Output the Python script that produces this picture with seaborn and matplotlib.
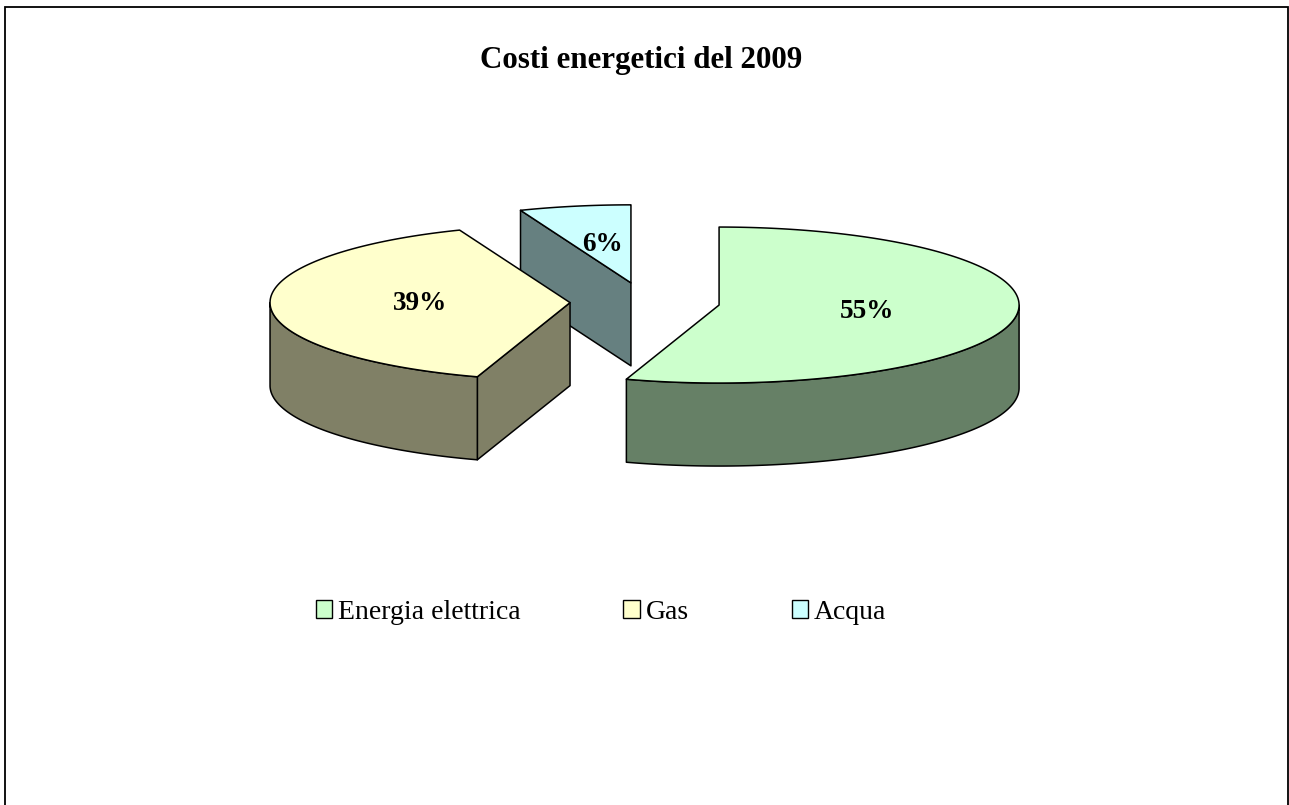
import numpy as np
import matplotlib.pyplot as plt
import seaborn as sns
from matplotlib.patches import Polygon, Patch, Rectangle

title = 'Costi energetici del 2009'
labels = ['Energia elettrica', 'Gas', 'Acqua']
shares = [55, 39, 6]
pct_labels = ['55%', '39%', '6%']
top_colors = ['#CCFFCC', '#FFFFCC', '#CCFFFF']
side_colors = ['#668066', '#808066', '#668080']

sns.set_style('white')
plt.rcParams['font.family'] = ['Liberation Serif', 'DejaVu Serif']
plt.rcParams['text.color'] = 'black'

W, H = 1289, 805
fig = plt.figure(figsize=(W / 100, H / 100), dpi=100)
ax = fig.add_axes([0, 0, 1, 1])

# pie layout in pixels: centre, radii of the tilted disc, thickness
cx, cy, rx, ry, depth = 645, 302, 300, 78, 83
explode = 0.25
ax.set_xlim(-cx / rx, (W - cx) / rx)
ax.set_ylim(-(H - cy) / ry, cy / ry)
ax.axis('off')
d = depth / ry

fracs = np.array(shares) / sum(shares)
starts = 90 - 360 * np.r_[0, np.cumsum(fracs)[:-1]]
ends = 90 - 360 * np.cumsum(fracs)

slices = []
for i in range(len(shares)):
    th1, th2 = ends[i], starts[i]
    mid = np.radians((th1 + th2) / 2)
    ox, oy = explode * np.cos(mid), explode * np.sin(mid)
    slices.append((oy, i, th1, th2, mid, ox))

# paint back slices first
for oy, i, th1, th2, mid, ox in sorted(slices, key=lambda s: -s[0]):
    kw = dict(edgecolor='black', linewidth=1.1, joinstyle='round')
    # radial faces facing the viewer
    for th, nrm in ((th1, th1 - 90), (th2, th2 + 90)):
        if np.sin(np.radians(nrm)) < -1e-6:
            t = np.radians(th)
            pts = [(ox, oy), (ox + np.cos(t), oy + np.sin(t)),
                   (ox + np.cos(t), oy + np.sin(t) - d), (ox, oy - d)]
            ax.add_patch(Polygon(pts, closed=True, facecolor=side_colors[i], **kw))
    # front curved wall
    for k in (-1, 0, 1):
        a, b = max(th1, -180 + 360 * k), min(th2, 360 * k)
        if a < b:
            t = np.radians(np.linspace(a, b, 120))
            top = np.c_[ox + np.cos(t), oy + np.sin(t)]
            bot = top[::-1] - [0, d]
            ax.add_patch(Polygon(np.r_[top, bot], closed=True,
                                 facecolor=side_colors[i], **kw))
    # top face
    t = np.radians(np.linspace(th1, th2, 200))
    pts = np.r_[[[ox, oy]], np.c_[ox + np.cos(t), oy + np.sin(t)]]
    ax.add_patch(Polygon(pts, closed=True, facecolor=top_colors[i], **kw))
    ax.text(ox + 0.5 * np.cos(mid), oy + 0.5 * np.sin(mid), pct_labels[i],
            ha='center', va='center', fontsize=19.5, fontweight='bold',
            color='black')

fig.text(641 / W, 1 - 68 / H, title, ha='center', va='baseline',
         fontsize=22.3, fontweight='bold', color='black')

handles = [Patch(facecolor=c, edgecolor='black', linewidth=1.0) for c in top_colors]
leg = fig.legend(handles, labels, loc='center', bbox_to_anchor=(601 / W, 1 - 612 / H),
                 ncol=3, frameon=False, fontsize=20, handlelength=0.6, handleheight=0.6,
                 handletextpad=0.2, columnspacing=3.7)
for txt in leg.get_texts():
    txt.set_color('black')

fig.patches.append(Rectangle((5 / W, -0.02), (1288 - 5) / W, 1.02 - 7 / H,
                             transform=fig.transFigure, fill=False,
                             edgecolor='black', linewidth=1.3))

fig.savefig('out.png', dpi=100, facecolor='white')
